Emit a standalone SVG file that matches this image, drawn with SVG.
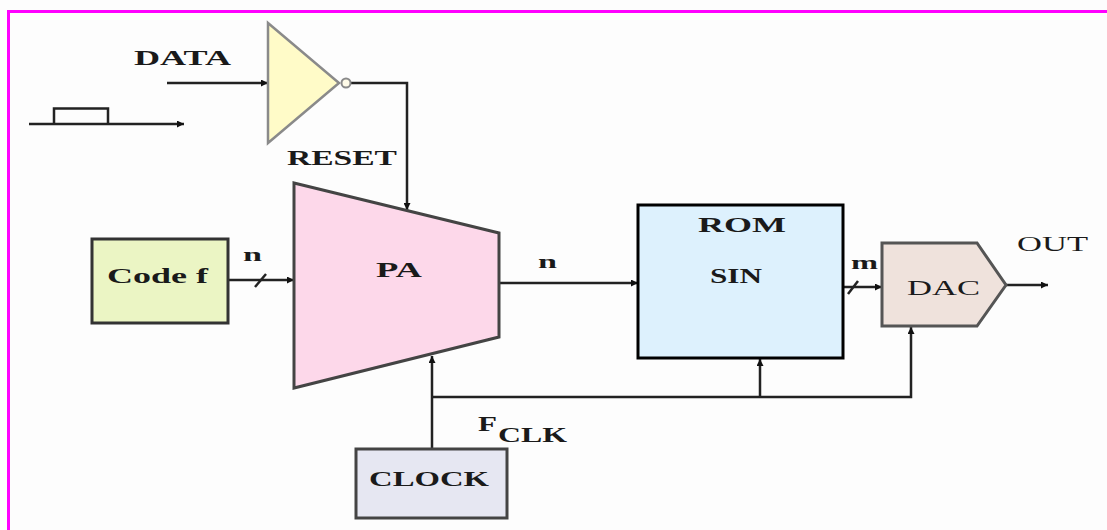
<svg xmlns="http://www.w3.org/2000/svg" width="1107" height="530" viewBox="0 0 1107 530">
<style>
.t{font-family:"Liberation Serif","Times New Roman",serif;font-weight:bold;fill:#1a1a1a;}
.n{font-weight:normal;}
.c{fill:none;stroke:#222;stroke-width:2.5;}
.box{stroke-width:3;}
</style>
<defs>
<marker id="ah" viewBox="0 0 10 10" refX="10" refY="5" markerWidth="9" markerHeight="7" markerUnits="userSpaceOnUse" orient="auto">
<path d="M0,0 L10,5 L0,10 Z" fill="#111"/>
</marker>
</defs>
<rect width="1107" height="530" fill="#fdfdfd"/>
<g id="border" fill="none" stroke="#ff00ff" stroke-width="3">
<path d="M8.5,530 V11.5 H1107"/>
</g>

<g id="connectors">
<path class="c" d="M167,83 H268" marker-end="url(#ah)"/>
<path class="c" d="M29,124 H184" marker-end="url(#ah)"/>
<path class="c" d="M54,124 V108.5 H108 V124"/>
<path class="c" d="M351,83 H407 V210" marker-end="url(#ah)"/>
<path class="c" d="M228,280 H294" marker-end="url(#ah)"/>
<path class="c" d="M255,287 L266,274"/>
<path class="c" d="M500,283 H638" marker-end="url(#ah)"/>
<path class="c" d="M843,287 H882" marker-end="url(#ah)"/>
<path class="c" d="M848,294 L858,281"/>
<path class="c" d="M1006,285 H1048" marker-end="url(#ah)"/>
<path class="c" d="M432,449 V356" marker-end="url(#ah)"/>
<path class="c" d="M432,397 H911 V327" marker-end="url(#ah)"/>
<path class="c" d="M760,397 V359" marker-end="url(#ah)"/>
</g>

<g id="buffer">
<path d="M268,23 L339,83 L268,143 Z" fill="#fffbc8" stroke="#8a8a8a" stroke-width="2.5"/>
<circle cx="346" cy="83" r="4.5" fill="#fffbe8" stroke="#8a8a8a" stroke-width="2"/>
</g>

<g id="code-f">
<rect x="92" y="239" width="136" height="84" fill="#ebf5c4" stroke="#333" class="box"/>
<text class="t" x="107" y="283" font-size="20" textLength="101" lengthAdjust="spacingAndGlyphs">Code f</text>
</g>

<g id="pa">
<path d="M294,183 L499,233 L499,337 L294,388 Z" fill="#fdd8ea" stroke="#444" stroke-width="3"/>
<text class="t" x="376" y="277" font-size="20" textLength="46" lengthAdjust="spacingAndGlyphs">PA</text>
</g>

<g id="rom">
<rect x="638" y="205" width="205" height="153" fill="#ddf1fd" stroke="#000" class="box"/>
<text class="t" x="698" y="232" font-size="21" textLength="88" lengthAdjust="spacingAndGlyphs">ROM</text>
<text class="t" x="710" y="283" font-size="21" textLength="52" lengthAdjust="spacingAndGlyphs">SIN</text>
</g>

<g id="dac">
<path d="M882,243 L977,243 L1006,285 L977,326 L882,326 Z" fill="#efe2dc" stroke="#555" stroke-width="3"/>
<text class="t n" x="907" y="295" font-size="20" textLength="73" lengthAdjust="spacingAndGlyphs">DAC</text>
</g>

<g id="clock">
<rect x="356" y="449" width="151" height="69" fill="#e6e7f2" stroke="#444" class="box"/>
<text class="t" x="369" y="486" font-size="20" textLength="120" lengthAdjust="spacingAndGlyphs">CLOCK</text>
</g>

<g id="labels">
<text class="t" x="134" y="65" font-size="21" textLength="97" lengthAdjust="spacingAndGlyphs">DATA</text>
<text class="t" x="287" y="165" font-size="21" textLength="110" lengthAdjust="spacingAndGlyphs">RESET</text>
<text class="t" x="243" y="261" font-size="18" textLength="19" lengthAdjust="spacingAndGlyphs">n</text>
<text class="t" x="538" y="268" font-size="18" textLength="19" lengthAdjust="spacingAndGlyphs">n</text>
<text class="t" x="851" y="269" font-size="18" textLength="27" lengthAdjust="spacingAndGlyphs">m</text>
<text class="t n" x="1017" y="251" font-size="21" textLength="71" lengthAdjust="spacingAndGlyphs">OUT</text>
<text class="t" x="478" y="431" font-size="20" textLength="19" lengthAdjust="spacingAndGlyphs">F</text>
<text class="t" x="498" y="442" font-size="20" textLength="69" lengthAdjust="spacingAndGlyphs">CLK</text>
</g>
</svg>
